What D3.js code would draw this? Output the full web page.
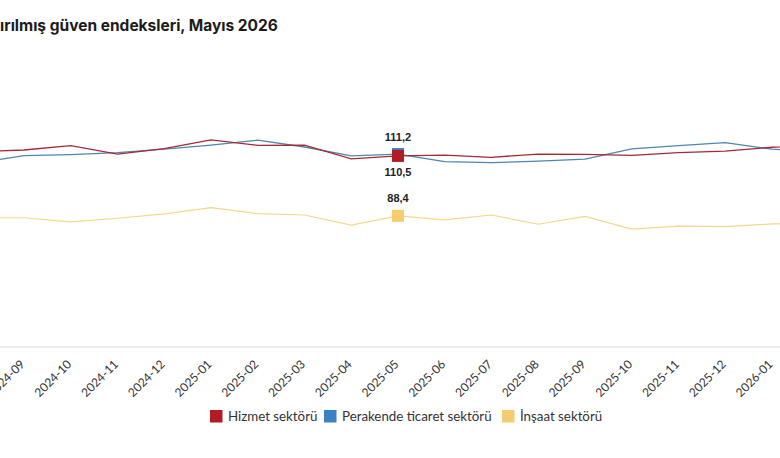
<!DOCTYPE html>
<html>
<head>
<meta charset="utf-8">
<script src="https://cdn.jsdelivr.net/npm/d3@7"></script>
<style>
    body { margin: 0; background: #fff; }
    #chart { width: 780px; height: 458px; overflow: hidden; }
</style>
</head>
<body>
<div id="chart"></div>
<script>
// months, 2024-08 .. 2026-02 (chart is cropped on both sides)
const months = ["2024-08","2024-09","2024-10","2024-11","2024-12","2025-01","2025-02","2025-03","2025-04",
    "2025-05","2025-06","2025-07","2025-08","2025-09","2025-10","2025-11","2025-12","2026-01","2026-02"]

const hizmet = [112.0,112.7,114.3,111.2,113.2,116.4,114.4,114.5,109.4,110.5,110.8,110.0,111.2,111.1,110.7,111.7,112.3,113.7,114.5]
const perakende = [107.9,110.6,111.0,111.7,113.0,114.5,116.3,113.8,110.5,111.2,108.4,108.0,108.6,109.3,113.1,114.3,115.4,113.0,112.0]
const insaat = [87.7,87.7,86.2,87.5,89.1,91.4,89.2,88.7,85.0,88.4,86.9,88.7,85.3,88.2,83.5,84.6,84.4,85.4,85.6]

const seriesNames = ["Hizmet sektörü", "Perakende ticaret sektörü", "İnşaat sektörü"]
const titleText = "ırılmış güven endeksleri, Mayıs 2026"
const highlightMonth = "2025-05"

document.addEventListener("DOMContentLoaded", setup)

let svg
let x
let y

function setup(){
    const width = 780
    const height = 458

    svg = d3.select("#chart").append("svg")
        .attr("width", width)
        .attr("height", height)

    x = d3.scalePoint()
        .domain(months)
        .range([-22.75, 818.75])
    y = d3.scaleLinear()
        .domain([40, 140])
        .range([347, 76])

    svg.append("text")
        .attr("x", 0)
        .attr("y", 31)
        .style("font-family", "Inter, 'Open Sans', sans-serif")
        .style("font-weight", 700)
        .style("font-size", "15.5px")
        .style("fill", "#1b1b1b")
        .text(titleText)

    // baseline
    svg.append("line")
        .attr("x1", 0).attr("x2", width)
        .attr("y1", y(40)).attr("y2", y(40))
        .style("stroke", "#e6e6e6")
        .style("stroke-width", 1.5)

    const visible = months.filter(m => x(m) > 0 && x(m) < width)
    const axis = svg.append("g")
        .attr("transform", "translate(0," + y(40) + ")")
        .call(d3.axisBottom(x).tickValues(visible).tickSize(0))
    axis.select(".domain").remove()
    axis.selectAll("text")
        .attr("dy", null)
        .attr("y", 0)
        .attr("transform", "translate(1,18) rotate(-45)")
        .style("text-anchor", "end")
        .style("font-family", "Lato, 'Open Sans', sans-serif")
        .style("font-size", "12px")
        .style("fill", "#333")

    drawSeries(insaat, "#f2d88c", "#f6cd6e", 1.2)
    drawSeries(perakende, "#4f86ad", "#3b82c4", 1.3)
    drawSeries(hizmet, "#a52a35", "#b01c23", 1.3)

    const i = months.indexOf(highlightMonth)
    addValueLabel(perakende[i], -13)
    addValueLabel(hizmet[i], 20)
    addValueLabel(insaat[i], -14)

    drawLegend(["#b01c23", "#3b82c4", "#f6cd6e"])
}

function drawSeries(values, lineColor, markColor, w){
    const line = d3.line()
        .x((d, i) => x(months[i]))
        .y(d => y(d))
    svg.append("path")
        .datum(values)
        .attr("d", line)
        .style("fill", "none")
        .style("stroke", lineColor)
        .style("stroke-width", w)

    const i = months.indexOf(highlightMonth)
    svg.append("rect")
        .attr("x", x(highlightMonth) - 6)
        .attr("y", y(values[i]) - 6)
        .attr("width", 12)
        .attr("height", 12)
        .style("fill", markColor)
}

function addValueLabel(v, dy){
    svg.append("text")
        .attr("x", x(highlightMonth))
        .attr("y", y(v) + dy)
        .attr("text-anchor", "middle")
        .style("font-family", "'Liberation Sans', Arial, sans-serif")
        .style("font-weight", 700)
        .style("font-size", "11px")
        .style("fill", "#222")
        .text(d3.format(".1f")(v).replace(".", ","))
}

function drawLegend(colors){
    const starts = [210, 324, 502]
    const g = svg.append("g")
    seriesNames.forEach((name, k) => {
        g.append("rect")
            .attr("x", starts[k])
            .attr("y", 410)
            .attr("width", 12.5)
            .attr("height", 12.5)
            .style("fill", colors[k])
        g.append("text")
            .attr("x", starts[k] + 18)
            .attr("y", 420.5)
            .style("font-family", "Lato, 'Open Sans', sans-serif")
            .style("font-size", "13.3px")
            .style("fill", "#333")
            .text(name)
    })
}
</script>
</body>
</html>
